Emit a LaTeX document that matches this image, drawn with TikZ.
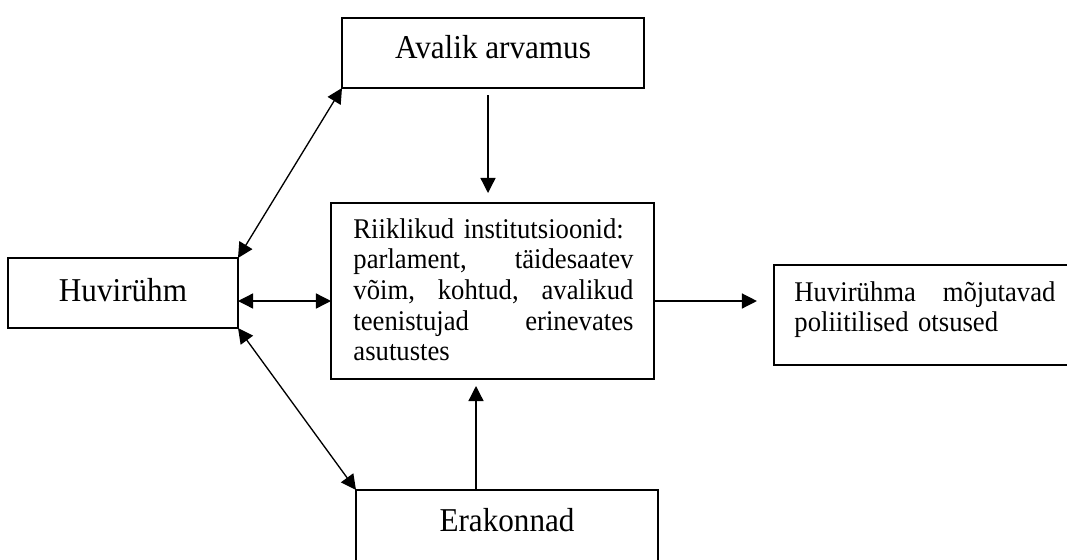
\documentclass[tikz,border=0pt]{standalone}
\usepackage{fontspec}
\setmainfont{Liberation Serif}
\newfontfamily\tallserif[FakeStretch=0.935]{Liberation Serif}
\usetikzlibrary{arrows.meta}
\begin{document}
\begin{tikzpicture}[x=0.45pt,y=-0.45pt,
  box/.style={draw, line width=0.9pt, inner sep=0pt, outer sep=0pt},
  big/.style={font=\tallserif\fontsize{15}{17}\selectfont},
  small/.style={font=\tallserif\fontsize{12.84}{13.8}\selectfont},
  arr/.style={line width=0.6pt, -{Triangle[length=6.8pt,width=6.8pt]}},
  darr/.style={line width=0.6pt, {Triangle[length=6.8pt,width=6.8pt]}-{Triangle[length=6.8pt,width=6.8pt]}}]
\clip (0,0) rectangle (1067,559);
% boxes
\node[box,big,minimum width=135.9pt,minimum height=31.5pt,text height=10pt,text depth=5pt] (aval) at (493,53) {Avalik arvamus};
\node[box,big,minimum width=103.5pt,minimum height=31.5pt,text height=10pt,text depth=2.8pt] (huv) at (123,293) {Huvirühm};
\node[box,minimum width=145.35pt,minimum height=79.2pt] (inst) at (492.5,291) {};
\node[small,anchor=north west,inner sep=0pt,text width=126pt,align=left] (insttext) at (353,218)
  {Riiklikud institutsioonid:\\ parlament,\hfill täidesaatev\\ võim,\hfill kohtud,\hfill avalikud\\ teenistujad\hfill erinevates\\ asutustes};
\node[box,minimum width=140pt,minimum height=45pt] (res) at (929.5,315) {};
\node[small,anchor=north west,inner sep=0pt,text width=117.45pt,align=left] (restext) at (794,281)
  {Huvirühma\hfill mõjutavad\\ poliitilised otsused};
\node[box,big,minimum width=135.9pt,minimum height=34.2pt,text height=9.7pt,text depth=7pt] (erak) at (507,528) {Erakonnad};
% helper coordinates
\coordinate (rowy) at (0,301);
\coordinate (colA) at (488,0);
\coordinate (colE) at (476,0);
% connectors
\draw[darr] (huv.north east) -- (aval.south west);
\draw[darr] (huv.south east) -- (erak.north west);
\draw[darr] (huv.east |- rowy) -- (inst.west |- rowy);
\draw[arr, shorten >=7.65pt] (inst.east |- rowy) -- (res.west |- rowy);
\draw[arr, shorten <=3.15pt, shorten >=4.5pt] (aval.south -| colA) -- (inst.north -| colA);
\draw[arr, shorten >=3.15pt] (erak.north -| colE) -- (inst.south -| colE);
\end{tikzpicture}
\end{document}
